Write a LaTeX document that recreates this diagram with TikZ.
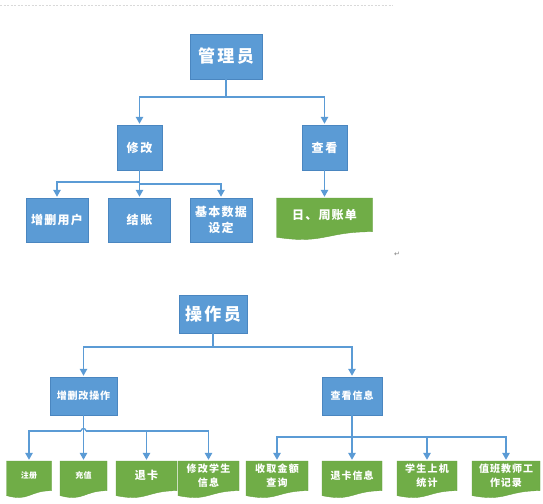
\documentclass[tikz,border=0pt]{standalone}
\usepackage{fontspec}
\newfontfamily\cjk{Noto Sans CJK SC}
\newfontfamily\dejavu{DejaVu Sans}
\usetikzlibrary{arrows.meta}
\definecolor{boxblue}{HTML}{5B9BD5}
\definecolor{boxedge}{HTML}{4A86C0}
\definecolor{lineblue}{HTML}{5B9BD5}
\definecolor{docgreen}{HTML}{70AD47}
\definecolor{docedge}{HTML}{68A340}
\newcommand\fs[3]{\cjk\bfseries\fontsize{#1}{#2}\selectfont\addfontfeature{LetterSpace=#3}}
\tikzset{
  bluebox/.style={fill=boxblue, draw=boxedge, line width=0.5pt, text=white, align=center, inner sep=0pt},
  doctext/.style={text=white, align=center, inner sep=0pt},
  link/.style={draw=lineblue, line width=1.3pt},
  linkarrow/.style={link, -{Triangle[width=7.5pt,length=7pt]}, shorten >=1pt},
  docfill/.style={fill=docgreen, draw=docedge, line width=0.4pt},
}
% #1 name, #2 centre x, #3 top y, #4 width, #5 height, #6 font, #7 text
\newcommand\docbox[7]{%
  \path[docfill] ({#2-#4/2},#3) -- ({#2+#4/2},#3) -- ({#2+#4/2},{#3+0.802*#5})
    .. controls (#2,{#3+0.802*#5}) and (#2,{#3+1.1075*#5}) .. ({#2-#4/2},{#3+0.934*#5}) -- cycle;
  \node[doctext, minimum width={#4*1pt}, minimum height={0.8*#5*1pt}, font=#6] (#1) at (#2,{#3+0.4*#5}) {#7};
}
\begin{document}
\begin{tikzpicture}[x=1pt,y=-1pt]
\useasboundingbox[fill=white] (0,0) rectangle (543,503);
\draw[gray!30, line width=0.5pt, dash pattern=on 2pt off 1.5pt] (0,5) -- (393,5);

% ---------- top tree ----------
\node[bluebox, minimum width=72pt, minimum height=45pt, font=\fs{17}{20}{14}] (mgr) at (226,56.5) {管理员};
\node[bluebox, minimum width=45pt, minimum height=45pt, font=\fs{12}{15}{14}] (xg) at (139.5,147.5) {修改};
\node[bluebox, minimum width=45pt, minimum height=45pt, font=\fs{12}{15}{14}] (ck) at (324.5,147.5) {查看};
\node[bluebox, minimum width=62pt, minimum height=44pt, font=\fs{12}{15}{10}] (zs) at (57,220) {增删用户};
\node[bluebox, minimum width=62pt, minimum height=44pt, font=\fs{12}{15}{14}] (jz) at (139.5,220) {结账};
\node[bluebox, minimum width=62pt, minimum height=44pt, font=\fs{12}{16}{10}] (jb) at (221,220) {基本数据\\设定};
\docbox{rz}{324.5}{198}{96}{42}{\fs{12}{15}{10}}{日、周账单}

\coordinate (j1) at (226,97);
\draw[link] (mgr.south) -- (j1);
\draw[linkarrow] (j1) -| (xg.north);
\draw[linkarrow] (j1) -| (ck.north);

\coordinate (j2) at (139.5,182);
\coordinate (j2b) at (139.5,184);
\draw[linkarrow] (xg.south) -- (jz.north);
\draw[linkarrow] (j2) -| (zs.north);
\draw[linkarrow] (j2b) -| (jb.north);
\draw[linkarrow] (ck.south) -- (rz.north);

\node[text=gray, font=\dejavu\fontsize{7}{7}\selectfont, inner sep=0pt] (ret) at (397,254.5) {↵};

% ---------- bottom tree ----------
\node[bluebox, minimum width=68pt, minimum height=38pt, font=\fs{17}{20}{14}] (op) at (213,314) {操作员};
\node[bluebox, minimum width=67pt, minimum height=38pt, font=\fs{10}{13}{8}] (zsg) at (83.5,396) {增删改操作};
\node[bluebox, minimum width=60pt, minimum height=38pt, font=\fs{10}{13}{10}] (ckx) at (352,396) {查看信息};

\docbox{d1}{29}{461}{45}{37}{\fs{8}{10}{4}}{注册}
\docbox{d2}{83.5}{461}{47}{37}{\fs{8}{10}{4}}{充值}
\docbox{d3}{146.5}{461}{61}{37}{\fs{11}{13}{12}}{退卡}
\docbox{d4}{208.5}{461}{61}{37}{\fs{10}{14}{12}}{修改学生\\信息}
\docbox{d5}{277}{461}{62}{37}{\fs{10}{14}{12}}{收取金额\\查询}
\docbox{d6}{352}{461}{60}{37}{\fs{10}{13}{10}}{退卡信息}
\docbox{d7}{427}{461}{60}{37}{\fs{10}{14}{12}}{学生上机\\统计}
\docbox{d8}{506}{461}{68}{37}{\fs{10}{14}{10}}{值班教师工\\作记录}

\coordinate (j3) at (213,347);
\draw[link] (op.south) -- (j3);
\draw[linkarrow] (j3) -| (zsg.north);
\draw[linkarrow] (j3) -| (ckx.north);

\coordinate (b1) at (83.5,431);
\draw[linkarrow] (zsg.south) -- (d2.north);
\draw[linkarrow] ([xshift=-2.5pt]b1) -| (d1.north);
\draw[link] ([xshift=-2.5pt]b1) arc[start angle=180, end angle=0, radius=2.5pt];
\draw[linkarrow] ([xshift=2.5pt]b1) -| (d3.north);
\draw[linkarrow] ([xshift=2.5pt]b1) -| (d4.north);

\coordinate (b2) at (352,437);
\draw[linkarrow] (ckx.south) -- (d6.north);
\draw[linkarrow] (b2) -| (d5.north);
\draw[linkarrow] (b2) -| (d7.north);
\draw[linkarrow] (b2) -| (d8.north);
\end{tikzpicture}
\end{document}
